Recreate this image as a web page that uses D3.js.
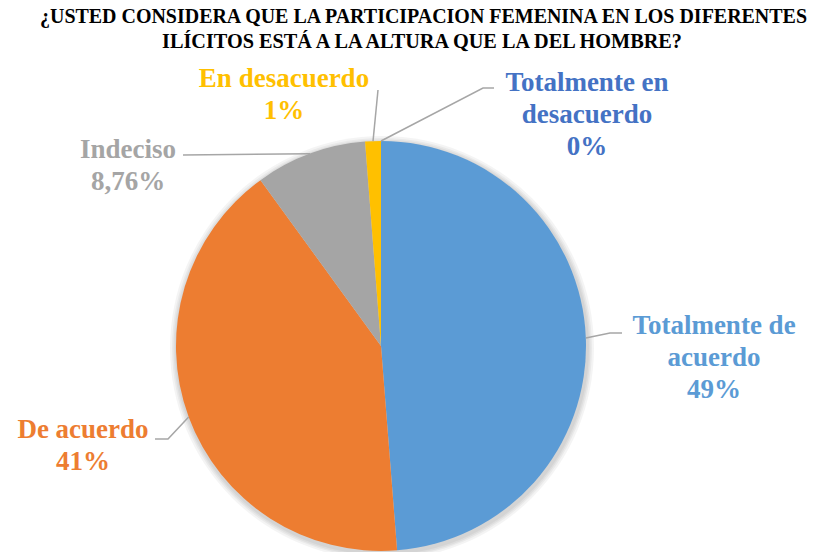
<!DOCTYPE html>
<html>
<head>
<meta charset="utf-8">
<script src="https://cdn.jsdelivr.net/npm/d3@7"></script>
</head>
<body style="margin:0">
<svg id="chart" width="813" height="552" font-family="Liberation Serif"></svg>
<script>
const categories = ["Totalmente de acuerdo", "De acuerdo", "Indeciso", "En desacuerdo", "Totalmente en desacuerdo"];
const values = [48.75, 41.25, 8.76, 1.24, 0];
const valueLabels = ["49%", "41%", "8,76%", "1%", "0%"];
const colors = ["#5B9BD5", "#ED7D31", "#A5A5A5", "#FFC000", "#4472C4"];

// label name split into lines as shown in the callouts
const labelLines = [
    ["Totalmente de", "acuerdo"],
    ["De acuerdo"],
    ["Indeciso"],
    ["En desacuerdo"],
    ["Totalmente en", "desacuerdo"]
];

// layout of callouts (text centre x, first baseline y, leader elbow and end)
const layout = [
    { x: 714, y: 334, elbow: [610, 333], end: [622, 333] },
    { x: 83, y: 438, elbow: [168, 439], end: [155, 439] },
    { x: 128, y: 158, elbow: null, end: [183, 155] },
    { x: 284, y: 87, elbow: null, end: [378, 90] },
    { x: 587, y: 91, elbow: [483, 88], end: [494, 88] }
];

const cx = 381, cy = 346, radius = 205;
const lineH = 32;

const svg = d3.select("#chart");

// Title
svg.append("text")
    .attr("x", 40).attr("y", 23)
    .attr("textLength", 767)
    .attr("lengthAdjust", "spacingAndGlyphs")
    .attr("font-family", "Liberation Serif")
    .attr("font-weight", "bold")
    .attr("font-size", 21)
    .text("¿USTED CONSIDERA QUE LA PARTICIPACION FEMENINA EN LOS DIFERENTES");
svg.append("text")
    .attr("x", 162).attr("y", 48)
    .attr("textLength", 520)
    .attr("lengthAdjust", "spacingAndGlyphs")
    .attr("font-family", "Liberation Serif")
    .attr("font-weight", "bold")
    .attr("font-size", 21)
    .text("ILÍCITOS ESTÁ A LA ALTURA QUE LA DEL HOMBRE?");

const data = categories.map((c, i) => ({ name: c, value: values[i], i }));

const pie = d3.pie()
    .sort(null)
    .value(d => d.value);

const arc = d3.arc()
    .innerRadius(0)
    .outerRadius(radius);

const arcs = pie(data);

const pieG = svg.append("g")
    .attr("transform", `translate(${cx},${cy})`);

// soft shadow round the pie, drawn as faint rings
[7, 5, 3.5, 2].forEach(r => {
    pieG.append("circle")
        .attr("cx", 1).attr("cy", 2)
        .attr("r", radius + r)
        .attr("fill", "#000")
        .attr("fill-opacity", 0.045);
});

pieG.selectAll("path")
    .data(arcs)
    .join("path")
    .attr("d", arc)
    .attr("fill", d => colors[d.data.i]);

// Leader lines
const leaders = svg.append("g")
    .attr("fill", "none")
    .attr("stroke", "#A6A6A6")
    .attr("stroke-width", 1.5);

arcs.forEach(a => {
    const mid = (a.startAngle + a.endAngle) / 2;
    const p0 = [cx + radius * Math.sin(mid), cy - radius * Math.cos(mid)];
    const lay = layout[a.data.i];
    const pts = [p0];
    if (lay.elbow) pts.push(lay.elbow);
    pts.push(lay.end);
    leaders.append("path").attr("d", d3.line()(pts));
});

// Labels
data.forEach(d => {
    const lay = layout[d.i];
    const lines = labelLines[d.i].concat([valueLabels[d.i]]);
    const t = svg.append("text")
        .attr("font-family", "Liberation Serif")
        .attr("font-weight", "bold")
        .attr("font-size", 27)
        .attr("text-anchor", "middle")
        .attr("fill", colors[d.i]);
    lines.forEach((ln, k) => {
        t.append("tspan")
            .attr("x", lay.x)
            .attr("y", lay.y + k * lineH)
            .text(ln);
    });
});
</script>
</body>
</html>
